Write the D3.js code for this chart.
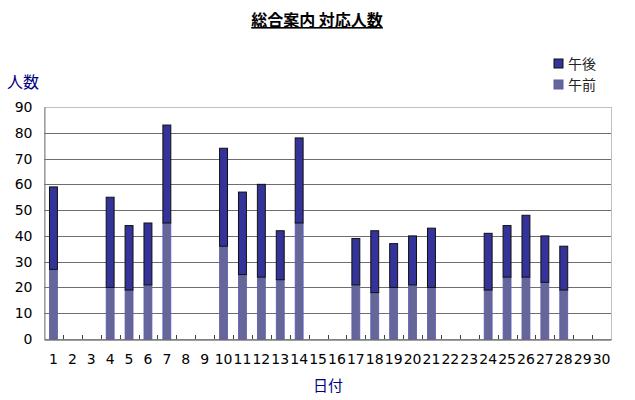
<!DOCTYPE html>
<html>
<head>
<meta charset="utf-8">
<script src="https://cdn.jsdelivr.net/npm/d3@7"></script>
<style>
  body { margin: 0; background: #fff; }
  svg { display: block; }
</style>
</head>
<body>
<div id="chart"></div>
<script>
// days of the month
var days = d3.range(1, 31).map(String);
// 午前 (morning) counts, 0 = closed day
var amCounts = [27, 0, 0, 20, 19, 21, 45, 0, 0, 36, 25, 24, 23, 45, 0,
                0, 21, 18, 20, 21, 20, 0, 0, 19, 24, 24, 22, 19, 0, 0];
// 午後 (afternoon) counts
var pmCounts = [32, 0, 0, 35, 25, 24, 38, 0, 0, 38, 32, 36, 19, 33, 0,
                0, 18, 24, 17, 19, 23, 0, 0, 22, 20, 24, 18, 17, 0, 0];
var yTicks = [0, 10, 20, 30, 40, 50, 60, 70, 80, 90];
var seriesNames = ["午後", "午前"];
var seriesColors = ["#333399", "#666699"];

var width = 635, height = 400;
var plotLeft = 44, plotRight = 611, plotTop = 107, plotBottom = 339;
var jpFont = "'Noto Sans CJK JP', sans-serif";
var numFont = "'DejaVu Sans', sans-serif";

var svg = d3.select("#chart").append("svg")
    .attr("width", width)
    .attr("height", height);

var x = d3.scaleBand()
    .domain(days)
    .range([plotLeft, plotRight])
    .paddingInner(0.58)
    .paddingOuter(0.29);

var y = d3.scaleLinear()
    .domain([0, 90])
    .range([plotBottom, plotTop]);

// plot area frame
svg.append("rect")
    .attr("x", plotLeft + 0.5)
    .attr("y", plotTop + 0.5)
    .attr("width", plotRight - plotLeft)
    .attr("height", plotBottom - plotTop)
    .attr("fill", "none")
    .attr("stroke", "#c0c0c0");

// gridlines
svg.append("g").selectAll("line")
    .data(yTicks.filter(function(d) { return d > 0 && d < 90; }))
    .enter().append("line")
    .attr("x1", plotLeft)
    .attr("x2", plotRight)
    .attr("y1", function(d) { return Math.round(y(d)) + 0.5; })
    .attr("y2", function(d) { return Math.round(y(d)) + 0.5; })
    .attr("stroke", "#6e6e6e");

// bars: morning at the bottom, afternoon stacked on top
var stacked = days.map(function(d, i) {
  return { day: d, am: amCounts[i], pm: pmCounts[i] };
}).filter(function(d) { return d.am + d.pm > 0; });

svg.append("g").selectAll("rect")
    .data(stacked)
    .enter().append("rect")
    .attr("x", function(d) { return x(d.day); })
    .attr("width", x.bandwidth())
    .attr("y", function(d) { return y(d.am); })
    .attr("height", function(d) { return y(0) - y(d.am); })
    .attr("fill", seriesColors[1])
    .attr("stroke", "#5a5ab4")
    .attr("stroke-width", 0.8);

svg.append("g").selectAll("rect")
    .data(stacked)
    .enter().append("rect")
    .attr("x", function(d) { return x(d.day); })
    .attr("width", x.bandwidth())
    .attr("y", function(d) { return y(d.am + d.pm); })
    .attr("height", function(d) { return y(d.am) - y(d.am + d.pm); })
    .attr("fill", seriesColors[0])
    .attr("stroke", "#111")
    .attr("stroke-width", 1);

// y axis
var yAxis = svg.append("g")
    .attr("transform", "translate(" + (plotLeft + 0.5) + ",0)")
    .call(d3.axisLeft(y).tickValues(yTicks).tickSize(0).tickPadding(12));
yAxis.select(".domain").attr("stroke", "#808080");
yAxis.selectAll("text")
    .attr("font-family", numFont)
    .attr("font-size", 14)
    .attr("fill", "#000");

// x axis, ticks sit between the days and point up
var xAxis = svg.append("g")
    .attr("transform", "translate(0," + (plotBottom + 0.5) + ")")
    .call(d3.axisBottom(x).tickSize(0).tickPadding(15));
xAxis.select(".domain").attr("stroke", "#404040");
xAxis.selectAll("text")
    .attr("font-family", numFont)
    .attr("font-size", 14)
    .attr("fill", "#000");

svg.append("g").selectAll("line")
    .data(days.slice(1))
    .enter().append("line")
    .attr("x1", function(d) { return Math.round(x(d) - x.step() * x.paddingInner() / 2) + 0.5; })
    .attr("x2", function(d) { return Math.round(x(d) - x.step() * x.paddingInner() / 2) + 0.5; })
    .attr("y1", plotBottom)
    .attr("y2", plotBottom - 4)
    .attr("stroke", "#404040");

// titles
svg.append("text")
    .attr("x", 317)
    .attr("y", 26)
    .attr("text-anchor", "middle")
    .attr("font-family", jpFont)
    .attr("font-size", 16)
    .attr("font-weight", "bold")
    .attr("text-decoration", "underline")
    .text("総合案内 対応人数");

svg.append("text")
    .attr("x", 7)
    .attr("y", 88)
    .attr("font-family", jpFont)
    .attr("font-size", 16)
    .attr("fill", "#000080")
    .text("人数");

svg.append("text")
    .attr("x", 328)
    .attr("y", 391)
    .attr("text-anchor", "middle")
    .attr("font-family", jpFont)
    .attr("font-size", 15)
    .attr("fill", "#000080")
    .text("日付");

// legend
var legend = svg.append("g").selectAll("g")
    .data(seriesNames)
    .enter().append("g")
    .attr("transform", function(d, i) { return "translate(554," + (59 + i * 21) + ")"; });
legend.append("rect")
    .attr("width", 9)
    .attr("height", 9)
    .attr("fill", function(d, i) { return seriesColors[i]; })
    .attr("stroke", function(d, i) { return i == 0 ? "#111" : "#5a5ab4"; });
legend.append("text")
    .attr("x", 14)
    .attr("y", 10)
    .attr("font-family", jpFont)
    .attr("font-size", 14)
    .attr("fill", "#222")
    .text(function(d) { return d; });
</script>
</body>
</html>
